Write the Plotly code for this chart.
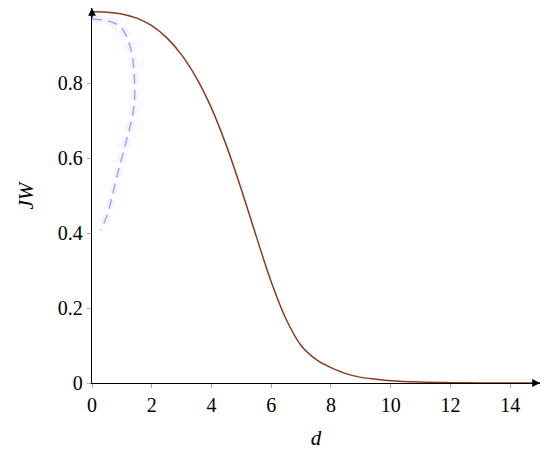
import plotly.graph_objects as go

# Main curve JW(d)
d_vals = [0, 0.5, 1, 1.5, 2, 2.5, 3, 3.5, 4, 4.5, 5, 5.5, 6, 6.5, 7, 7.5, 8, 8.5, 9, 9.5, 10, 11, 12, 13, 14, 15]
jw_vals = [0.99, 0.989, 0.984, 0.973, 0.953, 0.921, 0.875, 0.813, 0.733, 0.633, 0.516, 0.391, 0.27, 0.17, 0.1, 0.063, 0.041, 0.025, 0.015, 0.01, 0.006, 0.0025, 0.001, 0.0003, 0.0, 0.0]

# Dashed magenta path
dash_x = [0.0, 0.5, 0.93, 1.15, 1.33, 1.40, 1.43, 1.42, 1.35, 1.22, 1.08, 0.93, 0.80, 0.67, 0.53, 0.30]
dash_y = [0.971, 0.966, 0.952, 0.925, 0.88, 0.837, 0.79, 0.75, 0.71, 0.667, 0.624, 0.58, 0.54, 0.496, 0.453, 0.408]

x_ticks = [0, 2, 4, 6, 8, 10, 12, 14]
y_ticks = [0, 0.2, 0.4, 0.6, 0.8]

FONT = "Liberation Serif"

fig = go.Figure()
fig.add_trace(go.Scatter(x=dash_x, y=dash_y, mode="lines",
                         line=dict(color="#e0ffff", width=8, dash="10px,6px", shape="spline"),
                         hoverinfo="skip", showlegend=False))
fig.add_trace(go.Scatter(x=dash_x, y=dash_y, mode="lines",
                         line=dict(color="#ff66ff", width=1.3, dash="10px,6px", shape="spline"),
                         showlegend=False))
fig.add_trace(go.Scatter(x=d_vals, y=jw_vals, mode="lines",
                         line=dict(color="#8b3a1e", width=1.5, shape="spline", smoothing=1.0),
                         showlegend=False, cliponaxis=False))

# axis arrows
fig.add_annotation(x=15, y=0, ax=14.7, ay=0, xref="x", yref="y", axref="x", ayref="y",
                   showarrow=True, arrowhead=2, arrowsize=1.2, arrowwidth=1.3, arrowcolor="black", text="")
fig.add_annotation(x=0, y=1.0, ax=0, ay=0.97, xref="x", yref="y", axref="x", ayref="y",
                   showarrow=True, arrowhead=2, arrowsize=1.2, arrowwidth=1.3, arrowcolor="black", text="")

# y-axis title
fig.add_annotation(text="<i>JW</i>", xref="paper", yref="y", x=0, y=0.5, xshift=-67,
                   xanchor="center", yanchor="middle",
                   textangle=-90, showarrow=False, font=dict(size=21))

fig.update_layout(
    width=550, height=455,
    margin=dict(l=84, r=18, t=0, b=80),
    paper_bgcolor="white", plot_bgcolor="white",
    font=dict(family=FONT, size=20, color="black"),
    xaxis=dict(range=[0, 15], tickvals=x_ticks, ticktext=[str(v) for v in x_ticks],
               showgrid=False, zeroline=False, showline=True, linecolor="black", linewidth=1.3,
               ticks="outside", ticklen=4, tickcolor="#aaaaaa", layer="below traces",
               automargin=False,
               title=dict(text="<i>d</i>", font=dict(size=21))),
    yaxis=dict(range=[0, 1.0], tickvals=y_ticks, ticktext=["0", "0.2", "0.4", "0.6", "0.8"],
               showgrid=False, zeroline=False, showline=True, linecolor="black", linewidth=1.3,
               ticks="outside", ticklen=4, tickcolor="#aaaaaa", layer="below traces",
               automargin=False),
)

fig.write_html("out.html")
